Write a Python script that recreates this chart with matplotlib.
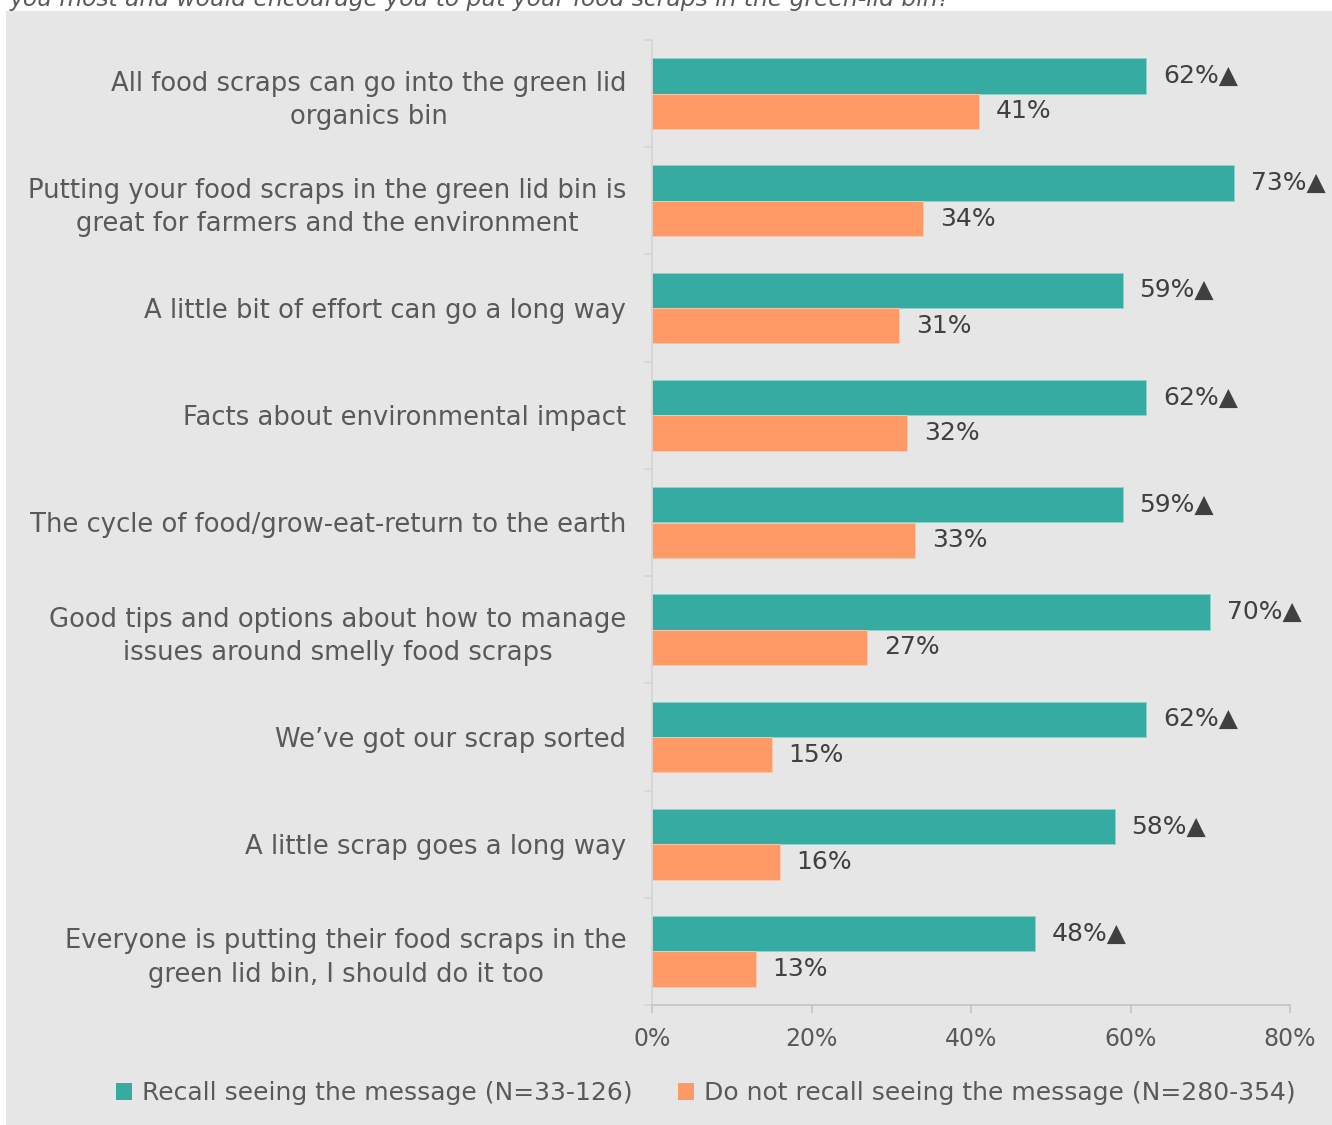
import matplotlib
matplotlib.use("Agg")
import matplotlib.pyplot as plt
from matplotlib.patches import Rectangle
import numpy as np

plt.rcParams['font.family'] = ['DejaVu Sans']

categories = [
    "All food scraps can go into the green lid\norganics bin",
    "Putting your food scraps in the green lid bin is\ngreat for farmers and the environment",
    "A little bit of effort can go a long way",
    "Facts about environmental impact",
    "The cycle of food/grow-eat-return to the earth",
    "Good tips and options about how to manage\nissues around smelly food scraps",
    "We\u2019ve got our scrap sorted",
    "A little scrap goes a long way",
    "Everyone is putting their food scraps in the\ngreen lid bin, I should do it too",
]
recall = [62, 73, 59, 62, 59, 70, 62, 58, 48]
no_recall = [41, 34, 31, 32, 33, 27, 15, 16, 13]
series_names = ["Recall seeing the message (N=33-126)",
                "Do not recall seeing the message (N=280-354)"]
x_ticks = [0, 20, 40, 60, 80]
title_text = "you most and would encourage you to put your food scraps in the green-lid bin?"

TEAL = "#36ABA2"
ORANGE = "#FF9A66"
TEXT = "#595959"
LABEL = "#404040"
PANEL = "#E6E6E6"

W, H = 1332, 1125
fig = plt.figure(figsize=(W / 100, H / 100), dpi=100)
fig.patch.set_facecolor("white")

# grey panel behind the chart
fig.patches.append(Rectangle((6 / W, 0), 1 - 6 / W, 1 - 11 / H,
                             transform=fig.transFigure, facecolor=PANEL,
                             edgecolor="none", zorder=-10))

# question text, partly above the canvas
fig.text(10 / W, 1 - 6 / H, title_text, fontsize=16.8, style="italic",
         color=TEXT, ha="left", va="baseline")

ax = fig.add_axes([652 / W, 1 - 1005 / H, (1290 - 652) / W, (1005 - 40) / H])
ax.set_facecolor("none")
ax.set_zorder(1)

y = np.arange(len(categories))
h = 0.33
ax.barh(y - h / 2, recall, height=h, color=TEAL, edgecolor="#8FD3CD",
        linewidth=0.6, label=series_names[0])
ax.barh(y + h / 2, no_recall, height=h, color=ORANGE, edgecolor="#FFC9AA",
        linewidth=0.6, label=series_names[1])

for yi, v in zip(y, recall):
    ax.annotate(f"{v}%\u25B2", (v, yi - h / 2), xytext=(12, 0),
                textcoords="offset points", va="center", ha="left",
                fontsize=18, color=LABEL)
for yi, v in zip(y, no_recall):
    ax.annotate(f"{v}%", (v, yi + h / 2), xytext=(12, 0),
                textcoords="offset points", va="center", ha="left",
                fontsize=18, color=LABEL)

ax.set_xlim(0, 80)
ax.set_ylim(len(categories) - 0.5, -0.5)
ax.set_xticks(x_ticks)
ax.set_xticklabels([f"{t}%" for t in x_ticks])
ax.set_yticks(y)
ax.set_yticklabels(categories)
ax.set_yticks(np.arange(-0.5, len(categories), 1.0), minor=True)

ax.tick_params(axis="y", which="major", length=0, pad=18.5,
               labelsize=18.6, labelcolor=TEXT)
ax.tick_params(axis="y", which="minor", length=6, width=1.2, color="#D4D4D4")
ax.tick_params(axis="x", which="major", length=6, width=1.2, color="#C4C4C4",
               labelsize=17, labelcolor=TEXT, pad=10)
for lbl in ax.get_yticklabels():
    lbl.set_multialignment("center")
    lbl.set_linespacing(1.38)

for s in ["top", "right"]:
    ax.spines[s].set_visible(False)
ax.spines["left"].set_color("#D4D4D4")
ax.spines["left"].set_linewidth(1.2)
ax.spines["bottom"].set_color("#C4C4C4")
ax.spines["bottom"].set_linewidth(1.2)

leg = fig.legend(loc="center", bbox_to_anchor=(706 / W, 1 - 1093 / H),
                 ncol=2, frameon=False, fontsize=18, labelcolor=TEXT,
                 handlelength=0.65, handleheight=0.65, handletextpad=0.4,
                 columnspacing=1.8)
for patch in leg.get_patches():
    patch.set_edgecolor("none")

fig.savefig("out.png", dpi=100, facecolor=fig.get_facecolor())
